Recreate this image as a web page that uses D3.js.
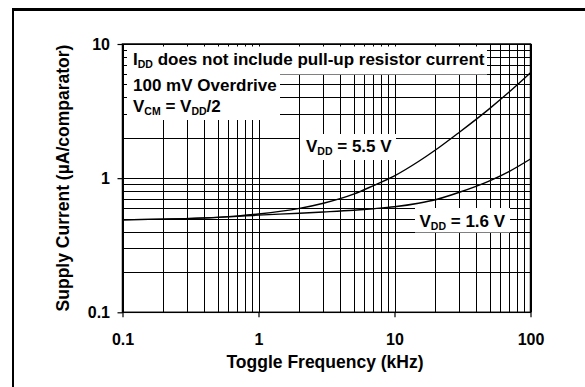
<!DOCTYPE html>
<html>
<head>
<meta charset="utf-8">
<script src="https://cdn.jsdelivr.net/npm/d3@7"></script>
<style>
html,body{margin:0;padding:0;background:#fff;}
svg{display:block;font-family:"Liberation Sans",Arial,sans-serif;font-weight:bold;}
</style>
</head>
<body>
<svg id="chart" width="585" height="387"></svg>
<script>
// ---- data ----
const freqKHz = [0.1, 0.2, 0.5, 1, 2, 3, 5, 7, 10, 15, 20, 30, 50, 70, 100];
const vdd55 = [0.49, 0.495, 0.51, 0.54, 0.595, 0.65, 0.76, 0.88, 1.04, 1.33, 1.62, 2.2, 3.3, 4.4, 6.1];
const vdd16 = [0.49, 0.495, 0.51, 0.53, 0.548, 0.56, 0.577, 0.592, 0.612, 0.65, 0.69, 0.785, 0.955, 1.125, 1.39];
const xTicks = [0.1, 1, 10, 100];
const yTicks = [0.1, 1, 10];
const xTickLabels = ["0.1", "1", "10", "100"];
const yTickLabels = ["0.1", "1", "10"];

const svg = d3.select("#chart");
const L = 122.5, R = 530.5, T = 44, B = 312.3;
const x = d3.scaleLog().domain([0.1, 100]).range([L, R]);
const y = d3.scaleLog().domain([0.1, 10]).range([B, T]);

// outer frame (top + left only visible)
svg.append("line").attr("x1", 12).attr("x2", 585).attr("y1", 9.5).attr("y2", 9.5).attr("stroke", "#000").attr("stroke-width", 3);
svg.append("line").attr("x1", 13).attr("x2", 13).attr("y1", 8).attr("y2", 387).attr("stroke", "#000").attr("stroke-width", 2);

// grid values
const xGrid = [], yGrid = [];
[0.1, 1, 10].forEach(d => { for (let i = 1; i <= 9; i++) xGrid.push(d * i); });
xGrid.push(100);
[0.1, 1].forEach(d => { for (let i = 1; i <= 9; i++) yGrid.push(d * i); });
yGrid.push(10);

const g = svg.append("g");
g.selectAll(".vg").data(xGrid).join("line")
  .attr("x1", d => Math.round(x(d)) + 0.5).attr("x2", d => Math.round(x(d)) + 0.5)
  .attr("y1", T).attr("y2", B).attr("stroke", "#000").attr("stroke-width", 1);
g.selectAll(".hg").data(yGrid).join("line")
  .attr("y1", d => Math.round(y(d)) + 0.5).attr("y2", d => Math.round(y(d)) + 0.5)
  .attr("x1", L).attr("x2", R).attr("stroke", "#000").attr("stroke-width", 1);

// white label boxes
const boxes = [
  [127, 46.5, 360, 28],
  [127, 74, 153, 46],
  [300, 134, 96, 26],
  [415, 208, 95, 24.5]
];
svg.selectAll(".box").data(boxes).join("rect")
  .attr("x", d => d[0]).attr("y", d => d[1]).attr("width", d => d[2]).attr("height", d => d[3])
  .attr("fill", "#fff");

// curves
const line = d3.line().x(d => x(d[0])).y(d => y(d[1])).curve(d3.curveMonotoneX);
[vdd55, vdd16].forEach(s => {
  svg.append("path").datum(freqKHz.map((f, i) => [f, s[i]]))
    .attr("d", line).attr("fill", "none").attr("stroke", "#000").attr("stroke-width", 1.4);
});

// plot frame
svg.append("rect").attr("x", L).attr("y", T).attr("width", R - L).attr("height", B - T)
  .attr("fill", "none").attr("stroke", "#000").attr("stroke-width", 1.5);

// axes
const xAxis = d3.axisBottom(x).tickValues(xTicks).tickSize(5).tickPadding(16)
  .tickFormat((d, i) => xTickLabels[i]);
const gx = svg.append("g").attr("transform", `translate(0,${B})`).call(xAxis);
gx.select(".domain").remove();
gx.selectAll("line").attr("stroke", "#000").attr("stroke-width", 1.2);
gx.selectAll("text").attr("font-size", 16).attr("font-weight", "bold").attr("fill", "#000")
  .attr("font-family", "Liberation Sans, Arial, sans-serif");

const yAxis = d3.axisLeft(y).tickValues(yTicks).tickSize(5).tickPadding(7.5)
  .tickFormat((d, i) => yTickLabels[i]);
const gy = svg.append("g").attr("transform", `translate(${L},0)`).call(yAxis);
gy.select(".domain").remove();
gy.selectAll("line").attr("stroke", "#000").attr("stroke-width", 1.2);
gy.selectAll("text").attr("font-size", 16).attr("font-weight", "bold").attr("fill", "#000")
  .attr("font-family", "Liberation Sans, Arial, sans-serif");

// axis titles
svg.append("text").attr("x", 325).attr("y", 368).attr("text-anchor", "middle")
  .attr("font-size", 17.5).text("Toggle Frequency (kHz)");
svg.append("text").attr("transform", "translate(69,178) rotate(-90)").attr("text-anchor", "middle")
  .attr("font-size", 17.5).text("Supply Current (µA/comparator)");

// annotations with subscripts
function subText(xp, yp, parts) {
  const t = svg.append("text").attr("x", xp).attr("y", yp).attr("font-size", 17);
  parts.forEach(p => {
    const ts = t.append("tspan").text(p[0]);
    if (p[1]) ts.attr("font-size", 10.5).attr("dy", 3);
    else if (p[2]) ts.attr("dy", -3);
  });
}
subText(133, 65, [["I"], ["DD", true], [" does not include pull-up resistor current", false, true]]);
subText(133, 90.7, [["100 mV Overdrive"]]);
subText(133, 111.7, [["V"], ["CM", true], [" = V", false, true], ["DD", true], ["/2", false, true]]);
subText(306, 152.3, [["V"], ["DD", true], [" = 5.5 V", false, true]]);
subText(419.5, 226.5, [["V"], ["DD", true], [" = 1.6 V", false, true]]);
</script>
</body>
</html>
